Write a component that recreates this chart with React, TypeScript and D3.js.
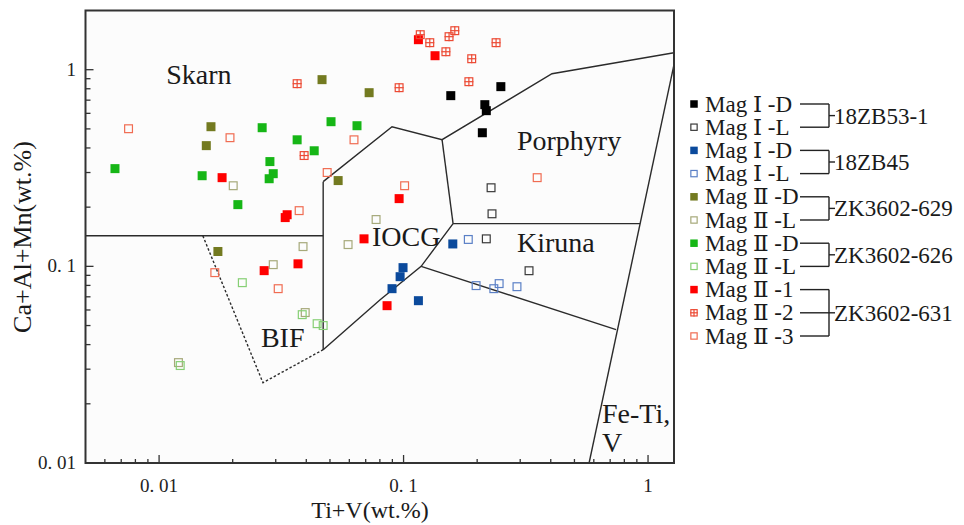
import React from 'react';
import * as d3 from 'd3';

// [Ti+V, Ca+Al+Mn] in wt.%
const magI_D_53 = [[0.156, 0.738], [0.25, 0.82], [0.215, 0.664], [0.218, 0.619], [0.21, 0.478]];
const magI_L_53 = [[0.228, 0.251], [0.23, 0.185], [0.218, 0.138], [0.326, 0.095]];
const magI_D_45 = [[0.159, 0.13], [0.0995, 0.0985], [0.0968, 0.0886], [0.0897, 0.077], [0.115, 0.0669]];
const magI_L_45 = [[0.184, 0.137], [0.198, 0.0798], [0.234, 0.077], [0.246, 0.0817], [0.291, 0.0788]];
const magII_D_629 = [[0.0464, 0.89], [0.0723, 0.764], [0.0163, 0.513], [0.0156, 0.411], [0.054, 0.273], [0.0174, 0.119]];
const magII_L_629 = [[0.0201, 0.257], [0.0772, 0.173], [0.0388, 0.126], [0.0593, 0.129], [0.0293, 0.102], [0.0396, 0.0582], [0.012, 0.0324]];
const magII_D_626 = [[0.0066, 0.314], [0.015, 0.289], [0.0264, 0.507], [0.0367, 0.44], [0.0431, 0.387], [0.0505, 0.544], [0.0645, 0.519], [0.0284, 0.341], [0.0293, 0.296], [0.0282, 0.279], [0.021, 0.206]];
const magII_L_626 = [[0.0219, 0.0826], [0.0385, 0.0568], [0.0443, 0.0511], [0.0469, 0.05], [0.0122, 0.0313]];
const magII_1 = [[0.115, 1.421], [0.1345, 1.178], [0.0181, 0.2825], [0.0334, 0.183], [0.0328, 0.177], [0.0959, 0.221], [0.0689, 0.138], [0.0269, 0.0951], [0.037, 0.103], [0.0856, 0.0631]];
const magII_2 = [[0.0367, 0.849], [0.0392, 0.366], [0.117, 1.507], [0.128, 1.372], [0.149, 1.234], [0.1535, 1.472], [0.162, 1.579], [0.19, 1.137], [0.239, 1.372], [0.185, 0.869], [0.0959, 0.81]];
const magII_3 = [[0.0075, 0.501], [0.0195, 0.451], [0.0627, 0.44], [0.0487, 0.3], [0.0374, 0.192], [0.101, 0.257], [0.352, 0.2825], [0.0169, 0.0929], [0.0307, 0.077]];

const series = [
  { label: 'Mag Ⅰ -D', data: magI_D_53, color: '#000000', kind: 'filled' },
  { label: 'Mag Ⅰ -L', data: magI_L_53, color: '#3a3a3a', kind: 'open' },
  { label: 'Mag Ⅰ -D', data: magI_D_45, color: '#0b4a9c', kind: 'filled' },
  { label: 'Mag Ⅰ -L', data: magI_L_45, color: '#5b80c6', kind: 'open' },
  { label: 'Mag Ⅱ -D', data: magII_D_629, color: '#737a20', kind: 'filled' },
  { label: 'Mag Ⅱ -L', data: magII_L_629, color: '#a6a97a', kind: 'open' },
  { label: 'Mag Ⅱ -D', data: magII_D_626, color: '#16b616', kind: 'filled' },
  { label: 'Mag Ⅱ -L', data: magII_L_626, color: '#86cf74', kind: 'open' },
  { label: 'Mag Ⅱ -1', data: magII_1, color: '#ff0000', kind: 'filled' },
  { label: 'Mag Ⅱ -2', data: magII_2, color: '#ec4a34', kind: 'cross' },
  { label: 'Mag Ⅱ -3', data: magII_3, color: '#f06c52', kind: 'open' },
];

// sample groups: [first row, last row, name]
const groups = [[0, 1, '18ZB53-1'], [2, 3, '18ZB45'], [4, 5, 'ZK3602-629'], [6, 7, 'ZK3602-626'], [8, 10, 'ZK3602-631']];

// field boundaries
const X_MIN = 0.005;
const X_MAX = 1.277;
const boundaries = [
  [[X_MIN, 0.143], [0.0469, 0.143]],
  [[0.0469, 0.2696], [0.0469, 0.0377]],
  [[0.0469, 0.2696], [0.0897, 0.513], [0.1437, 0.4406], [0.4046, 0.954], [X_MAX, 1.22]],
  [[0.1437, 0.4406], [0.1594, 0.165]],
  [[0.1594, 0.165], [0.927, 0.165]],
  [[0.1594, 0.165], [0.118, 0.1], [0.0802, 0.0677], [0.0469, 0.0377]],
  [[0.118, 0.1], [0.74, 0.0477]],
  [[X_MAX, 1.06], [0.574, 0.01]],
];
const bifDashed = [[0.0151, 0.143], [0.0266, 0.0256], [0.0469, 0.0377]];

const fieldLabels = [
  { text: 'Skarn', at: [0.0107, 0.849] },
  { text: 'Porphyry', at: [0.291, 0.392] },
  { text: 'IOCG', at: [0.0743, 0.1274] },
  { text: 'Kiruna', at: [0.291, 0.1188] },
  { text: 'BIF', at: [0.0261, 0.039] },
  { text: 'Fe-Ti,', at: [0.648, 0.01605] },
  { text: 'V', at: [0.648, 0.01143] },
];

const xTickValues = [0.01, 0.1, 1];
const xTickLabels = ['0. 01', '0. 1', '1'];
const yTickValues = [0.01, 0.1, 1];
const yTickLabels = ['0. 01', '0. 1', '1'];

const FONT = '"Liberation Serif", "Times New Roman", "DejaVu Serif", serif';
const txt = { fontFamily: FONT };

const Marker = ({ cx, cy, color, kind, size }) => {
  const h = size / 2;
  if (kind === 'filled') {
    return <rect x={cx - h} y={cy - h} width={size} height={size} fill={color} />;
  }
  return (
    <g stroke={color} strokeWidth={1.2} fill="none">
      <rect x={cx - h + 0.6} y={cy - h + 0.6} width={size - 1.2} height={size - 1.2} />
      {kind === 'cross' && (
        <>
          <line x1={cx - h} x2={cx + h} y1={cy} y2={cy} />
          <line x1={cx} x2={cx} y1={cy - h} y2={cy + h} />
        </>
      )}
    </g>
  );
};

const App = () => {
  const left = 85.5, right = 674, top = 10.5, bottom = 463;
  const x = d3.scaleLog().domain([X_MIN, X_MAX]).range([left, right]);
  const y = d3.scaleLog().domain([0.01, 2]).range([bottom, top]);
  const line = d3.line().x(d => x(d[0])).y(d => y(d[1]));

  const isMajor = v => Math.abs(Math.log10(v) - Math.round(Math.log10(v))) < 1e-6;
  const xTicks = x.ticks().filter(v => v > X_MIN && v < X_MAX);
  const yTicks = y.ticks().filter(v => v > 0.01 && v < 2);

  // legend layout
  const rowY = i => 104 + i * 23.2;
  const lineStart = 800, bracketX = 829;

  return (
    <svg width={964} height={525} style={{ position: 'absolute', left: 0, top: 0, background: '#fff' }}>
      <rect x={left} y={top} width={right - left} height={bottom - top} fill="#fcfcfc" />

      <g clipPath="url(#plot)">
        <clipPath id="plot"><rect x={left} y={top} width={right - left} height={bottom - top} /></clipPath>
        {boundaries.map((b, i) => (
          <path key={i} d={line(b)} fill="none" stroke="#2b2b2b" strokeWidth={1.4} />
        ))}
        <path d={line(bifDashed)} fill="none" stroke="#2b2b2b" strokeWidth={1.4} strokeDasharray="2.5,2" />
      </g>

      {fieldLabels.map((f, i) => (
        <text key={i} x={x(f.at[0])} y={y(f.at[1])} fontSize={28} fill="#1a1a1a" style={txt}>{f.text}</text>
      ))}

      {series.map((s, i) => (
        <g key={i}>
          {s.data.map((d, j) => (
            <Marker key={j} cx={x(d[0])} cy={y(d[1])} color={s.color} kind={s.kind} size={9} />
          ))}
        </g>
      ))}

      {/* ticks */}
      {xTicks.map((v, i) => (
        <line key={i} x1={x(v)} x2={x(v)} y1={bottom} y2={bottom - (isMajor(v) ? 8 : 4)} stroke="#333" strokeWidth={1.3} />
      ))}
      {yTicks.map((v, i) => (
        <line key={i} x1={left} x2={left + (isMajor(v) ? 8 : 5)} y1={y(v)} y2={y(v)} stroke="#333" strokeWidth={1.3} />
      ))}
      <rect x={left} y={top} width={right - left} height={bottom - top} fill="none" stroke="#333" strokeWidth={2} />

      {xTickValues.map((v, i) => (
        <text key={i} x={x(v)} y={492} textAnchor="middle" fontSize={19} fill="#222" style={txt}>{xTickLabels[i]}</text>
      ))}
      {yTickValues.map((v, i) => (
        <text key={i} x={76} y={y(v) + 6} textAnchor="end" fontSize={19} fill="#222" style={txt}>{yTickLabels[i]}</text>
      ))}

      <text x={370} y={518} textAnchor="middle" fontSize={24} fill="#1a1a1a" style={txt}>Ti+V(wt.%)</text>
      <text transform={`translate(31,237) rotate(-90)`} textAnchor="middle" fontSize={26} fill="#1a1a1a" style={txt}>Ca+Al+Mn(wt.%)</text>

      {/* legend */}
      {series.map((s, i) => (
        <g key={i}>
          <Marker cx={694} cy={rowY(i)} color={s.color} kind={s.kind} size={7.5} />
          <text x={705} y={rowY(i) + 7.5} fontSize={23} fill="#1a1a1a" style={txt}>{s.label}</text>
        </g>
      ))}
      {groups.map(([a, b, name], i) => {
        const midY = (rowY(a) + rowY(b)) / 2;
        const rows = d3.range(a, b + 1);
        return (
          <g key={i} stroke="#222" strokeWidth={1.4}>
            {rows.map(r => (
              <line key={r} x1={lineStart} x2={bracketX} y1={rowY(r)} y2={rowY(r)} />
            ))}
            <line x1={bracketX} x2={bracketX} y1={rowY(a)} y2={rowY(b)} />
            <line x1={bracketX} x2={bracketX + 6} y1={midY} y2={midY} />
            <text x={bracketX + 5} y={midY + 8} fontSize={23} fill="#1a1a1a" stroke="none" style={txt}>{name}</text>
          </g>
        );
      })}
    </svg>
  );
};

export default App;
